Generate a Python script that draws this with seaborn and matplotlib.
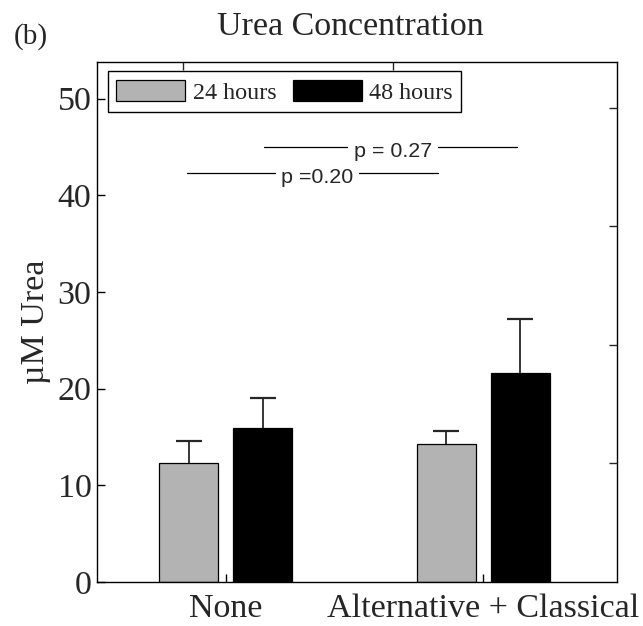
import matplotlib
matplotlib.use("Agg")
import matplotlib.pyplot as plt
import seaborn as sns
import pandas as pd
import numpy as np

# --- data ---
treatments = ["None", "Alternative + Classical"]
times = ["24 hours", "48 hours"]
urea_24h = [12.3, 14.3]
urea_48h = [15.9, 21.6]
err_24h = [2.3, 1.3]
err_48h = [3.1, 5.6]

sig_labels = ["p =0.20", "p = 0.27"]
sig_y = [42.3, 45.0]
sig_x0 = [-0.15, 0.15]
sig_x1 = [0.825, 1.13]
sig_xc = [0.356, 0.65]

yticks = [0, 10, 20, 30, 40, 50]

df = pd.DataFrame({
    "treatment": treatments * 2,
    "time": [times[0]] * 2 + [times[1]] * 2,
    "urea": urea_24h + urea_48h,
})

sns.set_style("white")
plt.rcParams["font.family"] = ["Liberation Serif", "DejaVu Serif"]

fig = plt.figure(figsize=(6.43, 6.26), dpi=100)
ax = fig.add_axes([97 / 643, 44 / 626, 520 / 643, 520 / 626])

sns.barplot(data=df, x="treatment", y="urea", hue="time", order=treatments,
            hue_order=times, palette=["#b3b3b3", "black"], edgecolor="black",
            linewidth=0.9, width=0.575, gap=0.2, errorbar=None, ax=ax)

# one-sided error bars on top of each bar (upper cap only)
for cont, errs in zip(ax.containers, [err_24h, err_48h]):
    xs = np.array([p.get_x() + p.get_width() / 2 for p in cont.patches])
    hs = np.array([p.get_height() for p in cont.patches])
    _, caps, _ = ax.errorbar(xs, hs, yerr=[np.zeros(len(errs)), errs],
                             fmt="none", ecolor="#262626", elinewidth=1.3,
                             capsize=9.5, capthick=1.6, zorder=3)
    for c in caps:
        if np.allclose(c.get_ydata(), hs):
            c.remove()

# significance brackets
for lab, y, x0, x1, xc in zip(sig_labels, sig_y, sig_x0, sig_x1, sig_xc):
    ax.plot([x0, x1], [y, y], color="black", lw=0.9, zorder=2)
    ax.annotate(lab, (xc, y), xytext=(0, -7), textcoords="offset points",
                ha="center", va="baseline", fontsize=15.4,
                family=["Liberation Sans", "DejaVu Sans"],
                bbox=dict(facecolor="white", edgecolor="none", pad=4),
                zorder=4)

ax.set_xlim(-0.5, 1.52)
ax.set_ylim(0, 53.8)
ax.set_yticks(yticks)
ax.set_xlabel("")
ax.set_ylabel("µM Urea", fontsize=24.5, labelpad=5)
ax.tick_params(axis="both", direction="in", length=6, width=1,
               labelsize=24.5, color="black")
ax.tick_params(axis="x", pad=8)
ax.tick_params(axis="y", pad=4)
for sp in ax.spines.values():
    sp.set_visible(True)
    sp.set_color("black")
    sp.set_linewidth(1.0)

# extra ticks on the top and right edges
axt = ax.twiny()
axt.set_xlim(ax.get_xlim())
axt.set_xticks([-0.165, 0.650])
axt.tick_params(axis="x", direction="in", length=6, width=1, labeltop=False)
axr = ax.twinx()
axr.set_ylim(ax.get_ylim())
axr.set_yticks([12.32, 24.53, 36.85, 49.07])
axr.tick_params(axis="y", direction="in", length=5.5, width=1, labelright=False)
for a in (axt, axr):
    for sp in a.spines.values():
        sp.set_visible(False)

sns.move_legend(ax, "upper left", bbox_to_anchor=(0.021, 0.982), ncol=2,
                title=None, frameon=True, fancybox=False, framealpha=1,
                edgecolor="black", fontsize=17.4, handlelength=2.85,
                handleheight=0.95, handletextpad=0.3, columnspacing=0.7,
                borderpad=0.35, borderaxespad=0)
ax.get_legend().get_frame().set_linewidth(1.0)
ax.get_legend().set_zorder(10)

fig.text(350 / 643, 1 - 35 / 626, "Urea Concentration", ha="center",
         va="baseline", fontsize=24.5)
fig.text(14 / 643, 1 - 44 / 626, "(b)", ha="left", va="baseline", fontsize=21)

fig.savefig("out.png", dpi=100)
